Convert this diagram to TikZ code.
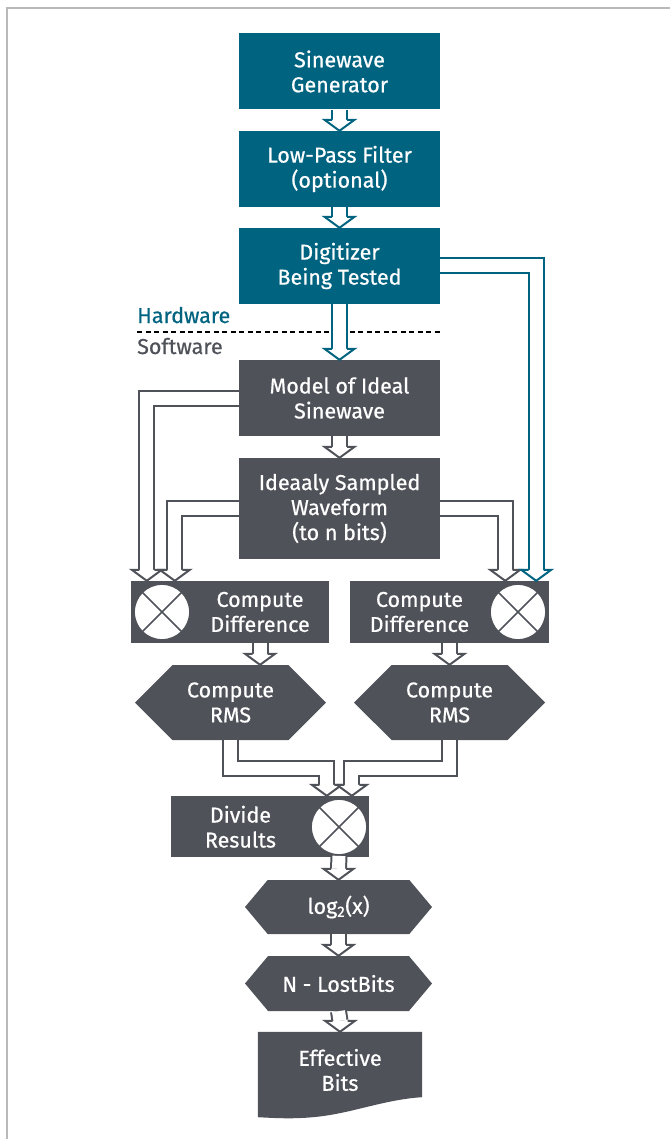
\documentclass[tikz,border=0pt]{standalone}
\usepackage{fontspec}
\setmainfont{Fira Sans}[FakeBold=0.6]
\usepackage{tikz}
\usetikzlibrary{shapes.symbols, calc}
\definecolor{adiblue}{RGB}{0,99,128}
\definecolor{adigray}{RGB}{79,83,89}
\definecolor{framegray}{RGB}{185,185,185}
\pgfdeclarelayer{background}
\pgfsetlayers{background,main}
\tikzstyle{boxfont} = [font=\fontsize{21.5}{25}\selectfont, text=white, align=center, inner sep=0pt]
\tikzstyle{hwbox} = [boxfont, fill=adiblue, minimum width=201pt, minimum height=76pt]
\tikzstyle{swbox} = [boxfont, fill=adigray, minimum width=201pt]
\tikzstyle{cdbox} = [fill=adigray, minimum width=198pt, minimum height=62pt, inner sep=0pt]
\tikzstyle{hexbox} = [boxfont, fill=adigray, signal, signal to=west and east, signal pointer angle=90]
\tikzstyle{xcircle} = [circle, draw=adigray, fill=white, line width=1.8pt, minimum size=56pt, inner sep=0pt]
\tikzstyle{pipe} = [line width=2pt, double=white, double distance=13pt, line join=miter]
% hollow arrow head, tip at #2
\newcommand{\pipehead}[2]{%
  \fill[white] ($(#2)+(-15,-11)$) -- ($(#2)+(15,-11)$) -- (#2) -- cycle;
  \draw[#1, line width=2pt, line join=miter] ($(#2)+(-7.5,-11)$) -- ($(#2)+(-15,-11)$) -- (#2) -- ($(#2)+(15,-11)$) -- ($(#2)+(7.5,-11)$);
}

\begin{document}
\begin{tikzpicture}[x=1pt,y=-1pt]
  \useasboundingbox (0,0) rectangle (670,1139);
  % frame
  \draw[framegray, line width=1.5pt] (7,1139) -- (7,8) -- (670,8);

  % hardware
  \node[hwbox] (gen) at (339.5,71.5) {Sinewave\\Generator};
  \node[hwbox] (lpf) at (339.5,169) {Low-Pass Filter\\(optional)};
  \node[hwbox] (dig) at (339.5,266) {Digitizer\\Being Tested};

  \node[anchor=base west, font=\fontsize{21.5}{25}\selectfont, text=adiblue, inner sep=0pt] (hw) at (137,323) {Hardware};
  \node[anchor=base west, font=\fontsize{21.5}{25}\selectfont, text=adigray, inner sep=0pt] (sw) at (137,354) {Software};
  \draw[line width=2pt, dash pattern=on 5pt off 3.5pt] (137,332) -- (440,332);

  % software
  \node[swbox, minimum height=76pt] (model) at (339.5,398) {Model of Ideal\\Sinewave};
  \node[swbox, minimum height=101pt] (ideal) at (339.5,508.5) {Ideaaly Sampled\\Waveform\\(to n bits)};

  \node[cdbox] (cdl) at (230,612) {};
  \node[xcircle] (cdlx) at (162,612) {};
  \node[boxfont] (cdltxt) at ($(cdlx.east)!0.5!(cdl.east)$) {Compute\\Difference};
  \node[cdbox, minimum width=199pt] (cdr) at (449.5,612) {};
  \node[xcircle] (cdrx) at (518,612) {};
  \node[boxfont] (cdrtxt) at ($(cdr.west)!0.5!(cdrx.west)$) {Compute\\Difference};

  \node[hexbox, minimum width=191pt, minimum height=75pt] (rmsl) at (230.5,702.5) {Compute\\RMS};
  \node[hexbox, minimum width=191pt, minimum height=75pt] (rmsr) at (449.5,702.5) {Compute\\RMS};

  \node[cdbox, minimum height=61pt] (div) at (270,826.5) {};
  \node[xcircle] (divx) at (339,827) {};
  \node[boxfont] (divtxt) at ($(div.west)!0.5!(divx.west)$) {Divide\\Results};

  \node[hexbox, signal pointer angle=100, minimum width=187pt, minimum height=54pt] (logx) at (338.5,907) {log\textsubscript{2}(x)};
  \node[hexbox, signal pointer angle=100, minimum width=187pt, minimum height=55pt] (nlost) at (338.5,983.5) {N - LostBits};
  \node[boxfont, minimum width=164pt, minimum height=76pt] (eff) at (340,1070) {Effective\\Bits};
  \begin{pgfonlayer}{background}
    \fill[adigray] (eff.north west) -- (eff.north east) -- ($(eff.south east)+(0,-11)$)
      .. controls (390,1099) and (360,1110) .. (330,1115)
      .. controls (300,1120) and (275,1118) .. ($(eff.south west)+(0,9)$) -- cycle;
  \end{pgfonlayer}

  % crosses
  \foreach \c in {cdlx,cdrx,divx}{
    \draw[adigray, line width=1.6pt] (\c.north west) -- (\c.south east) (\c.north east) -- (\c.south west);
  }

  % tips of the bent arrows
  \coordinate (tipA) at ($(cdl.north west)+(16,0)$);
  \coordinate (tipB) at ($(cdl.north west)+(44,0)$);
  \coordinate (tipC) at ($(cdr.north east)+(-44,0)$);
  \coordinate (tipD) at ($(cdr.north east)+(-13,0)$);
  \coordinate (tipE) at ($(div.north west)+(156,0)$);
  \coordinate (tipF) at ($(div.north west)+(181,0)$);

  % straight arrows
  \draw[pipe, adiblue] (gen.south) -- ($(lpf.north)+(0,-11)$);
  \pipehead{adiblue}{lpf.north}
  \draw[pipe, adiblue] (lpf.south) -- ($(dig.north)+(0,-11)$);
  \pipehead{adiblue}{dig.north}
  \draw[pipe, adiblue] (dig.south) -- ($(model.north)+(0,-11)$);
  \pipehead{adiblue}{model.north}
  \draw[pipe, adigray] (model.south) -- ($(ideal.north)+(0,-11)$);
  \pipehead{adigray}{ideal.north}
  \draw[pipe, adigray] (cdltxt.south |- cdl.south) -- ($(cdltxt.south |- rmsl.north)+(0,-11)$);
  \pipehead{adigray}{cdltxt.south |- rmsl.north}
  \draw[pipe, adigray] (rmsr.north |- cdr.south) -- ($(rmsr.north)+(0,-11)$);
  \pipehead{adigray}{rmsr.north}
  \draw[pipe, adigray] (divx.south) -- ($(logx.north)+(0,-11)$);
  \pipehead{adigray}{logx.north}
  \draw[pipe, adigray] (logx.south) -- ($(nlost.north)+(0,-11)$);
  \pipehead{adigray}{nlost.north}
  \draw[pipe, adigray] (nlost.south) -- ($(eff.north)+(0,-11)$);
  \pipehead{adigray}{eff.north}

  % bent arrows
  \draw[pipe, adigray] (model.west) -| ($(tipA)+(0,-11)$);
  \pipehead{adigray}{tipA}
  \draw[pipe, adigray] (ideal.west) -| ($(tipB)+(0,-11)$);
  \pipehead{adigray}{tipB}
  \draw[pipe, adigray] (ideal.east) -| ($(tipC)+(0,-11)$);
  \pipehead{adigray}{tipC}
  \draw[pipe, adiblue] (dig.east) -| ($(tipD)+(0,-11)$);
  \pipehead{adiblue}{tipD}
  \draw[pipe, adigray] (rmsl.south) -- ++(0,28) -| ($(tipE)+(0,-11)$);
  \pipehead{adigray}{tipE}
  \draw[pipe, adigray] (rmsr.south) -- ++(0,28) -| ($(tipF)+(0,-11)$);
  \pipehead{adigray}{tipF}
\end{tikzpicture}
\end{document}
